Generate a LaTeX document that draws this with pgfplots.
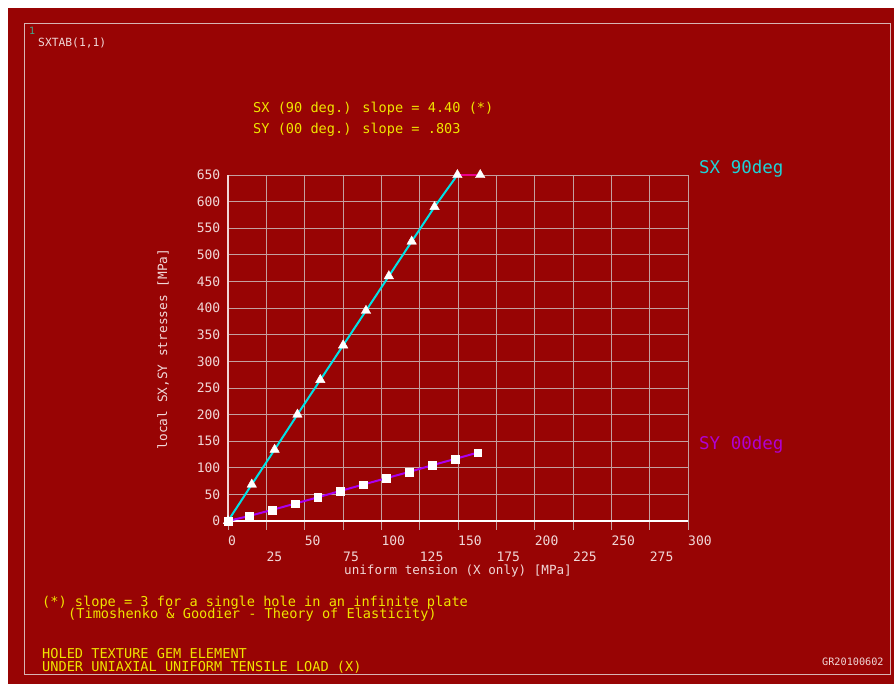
\documentclass[border=0pt]{standalone}
\usepackage{pgfplots}
\pgfplotsset{compat=1.18}
\usepackage{fontspec}
\setmainfont{DejaVu Sans Mono}
\definecolor{bgred}{RGB}{152,4,4}
\definecolor{gridc}{RGB}{196,160,160}
\definecolor{tickc}{RGB}{240,215,215}
\definecolor{yel}{RGB}{240,228,0}
\definecolor{sxc}{RGB}{0,225,230}
\definecolor{syc}{RGB}{170,0,240}
\definecolor{sylab}{RGB}{176,0,210}
\definecolor{sxlab}{RGB}{30,210,215}
\definecolor{framec}{RGB}{215,180,180}
\definecolor{teal1}{RGB}{64,170,140}
\newcommand{\fs}[1]{\fontsize{#1}{#1}\selectfont}
\pgfplotstableread{
x y
0 0
15.5 68.5
30.4 134
45.3 200
60.2 265
75.1 330
90.0 395
104.9 460
119.8 525
134.7 590
149.6 650
164.5 650
}\sxdata
\pgfplotstableread{
x y
0 0
13.7 9.4
28.7 20.7
43.7 32.6
58.5 44.4
73.3 56.4
88.0 68.3
103.0 80.2
118.0 92.0
133.0 104.6
148.0 116.5
162.8 128.4
}\sydata
\begin{document}
\begin{tikzpicture}[x=1pt,y=1pt]
\useasboundingbox (0,0) rectangle (894,684);
\fill[white] (0,0) rectangle (894,684);
\fill[bgred] (8,0) rectangle (894,676);
\draw[framec, line width=1pt] (24,9) rectangle (890,660);
\node[anchor=base west, inner sep=0, font=\fs{10}, text=teal1] at (29,649) {1};
\node[anchor=base west, inner sep=0, font=\fs{11.3}, text=tickc] at (38,637.5) {SXTAB(1,1)};
\node[anchor=base west, inner sep=0, font=\fs{13.6}, text=yel] at (253,571.5) {SX (90 deg.) slope = 4.40 (*)};
\node[anchor=base west, inner sep=0, font=\fs{13.6}, text=yel] at (253,550) {SY (00 deg.) slope = .803};
\node[anchor=base west, inner sep=0, font=\fs{17.5}, text=sxlab] at (699,510.7) {SX 90deg};
\node[anchor=base west, inner sep=0, font=\fs{17.5}, text=sylab] at (699,234.7) {SY 00deg};
\node[anchor=base, inner sep=0, rotate=90, font=\fs{12.8}, text=tickc] at (167,335) {local SX,SY stresses [MPa]};
\node[anchor=base, inner sep=0, font=\fs{12.6}, text=tickc] at (458,109) {uniform tension (X only) [MPa]};
\node[anchor=base west, inner sep=0, font=\fs{13.6}, text=yel] at (42,77.5) {(*) slope = 3 for a single hole in an infinite plate};
\node[anchor=base west, inner sep=0, font=\fs{13.6}, text=yel] at (68,65) {(Timoshenko \& Goodier - Theory of Elasticity)};
\node[anchor=base west, inner sep=0, font=\fs{13.6}, text=yel] at (42,25) {HOLED TEXTURE GEM ELEMENT};
\node[anchor=base west, inner sep=0, font=\fs{13.6}, text=yel] at (42,12.3) {UNDER UNIAXIAL UNIFORM TENSILE LOAD (X)};
\node[anchor=base west, inner sep=0, font=\fs{10.2}, text=tickc] at (822,18.3) {GR20100602};
\begin{axis}[
  at={(228pt,163pt)}, anchor=south west,
  scale only axis, width=460pt, height=346pt,
  xmin=0, xmax=300, ymin=0, ymax=650,
  clip=false,
  axis line style={draw=none},
  /pgf/number format/assume math mode=true,
  xtick={0,50,...,300},
  extra x ticks={25,75,...,275},
  extra x tick style={grid=major, xticklabel style={yshift=-16pt}},
  ytick={0,50,...,650},
  grid=major,
  major grid style={draw=gridc, line width=0.8pt},
  tick align=outside,
  major tick length=9pt,
  xtick pos=bottom,
  xtick style={draw=gridc, line width=0.8pt},
  ytick style={draw=none},
  xticklabel style={anchor=west, inner sep=0pt, yshift=-11pt, font=\fs{13}, text=tickc},
  yticklabel style={anchor=east, inner sep=0pt, xshift=1.5pt, font=\fs{13}, text=tickc},
]
\draw[white, line width=2pt] (axis cs:0,0) -- (axis cs:300,0);
\draw[tickc, line width=1.5pt] (axis cs:0,0) -- (axis cs:0,650);
\addplot[magenta, line width=2pt, no marks] coordinates {(149.6,650) (164.5,650)};
\addplot[sxc, line width=2pt, no marks, skip coords between index={11}{12}] table[x=x,y=y] {\sxdata};
\addplot[syc, line width=2pt, no marks] table[x=x,y=y] {\sydata};
\addplot[only marks, mark=triangle*, mark size=5.5pt, mark options={draw=white, fill=white}] table[x=x,y=y] {\sxdata};
\addplot[only marks, mark=square*, mark size=3.9pt, mark options={draw=white, fill=white}] table[x=x,y=y] {\sydata};
\end{axis}
\end{tikzpicture}
\end{document}
